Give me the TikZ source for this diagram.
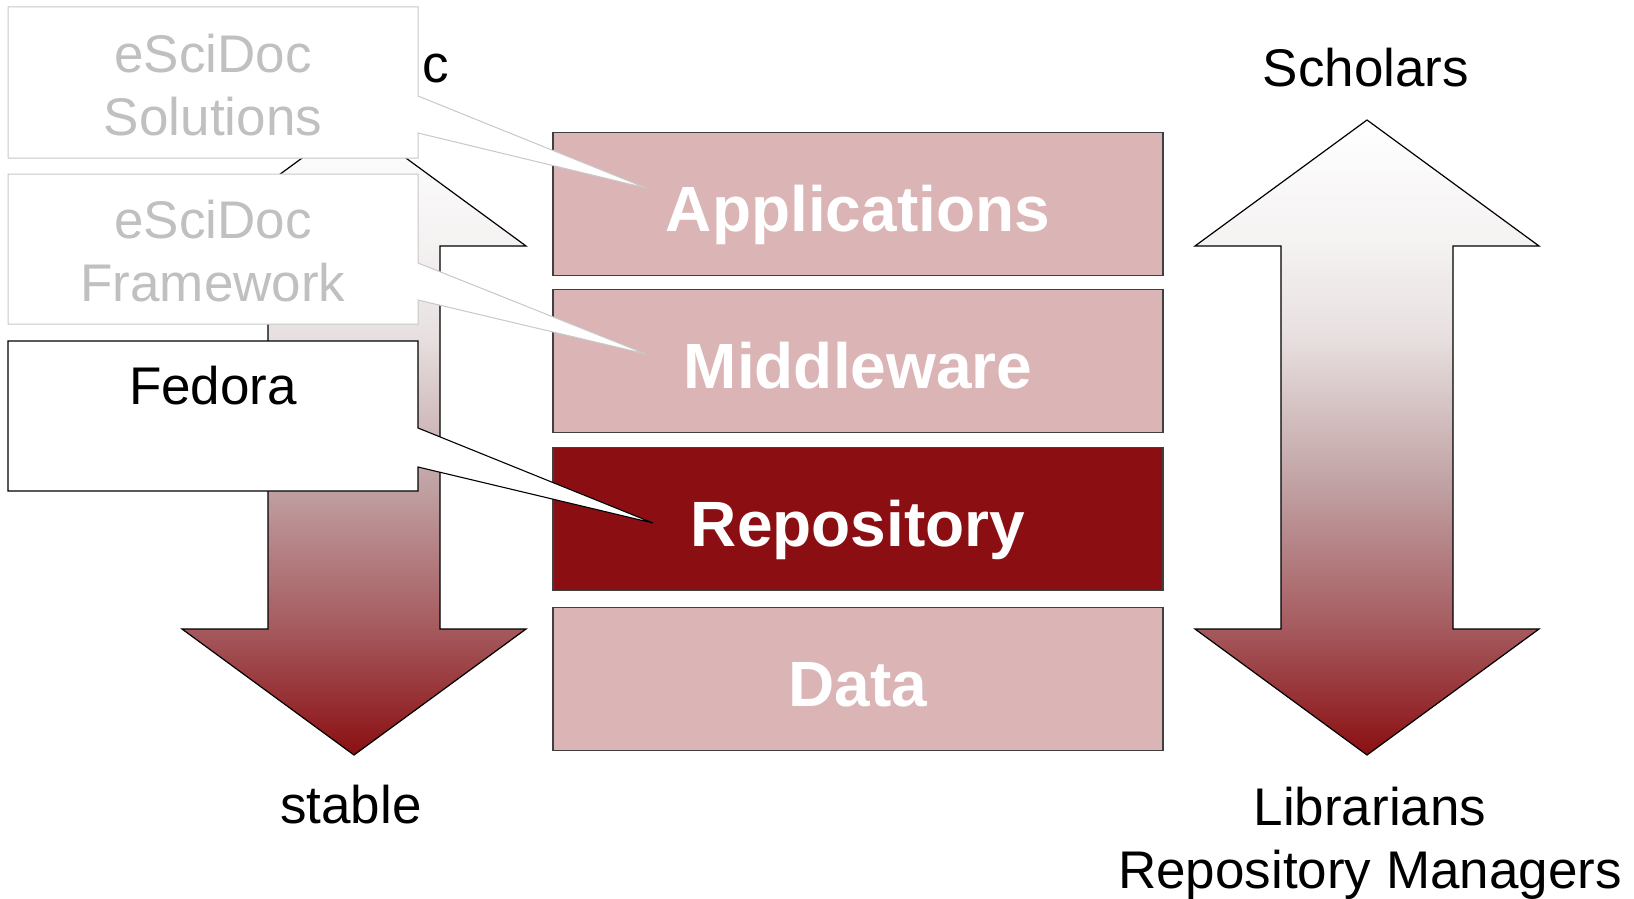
\documentclass[tikz,border=0pt]{standalone}
\usepackage{fontspec}
\setmainfont{Liberation Sans}
\definecolor{layerpink}{HTML}{DBB4B5}
\definecolor{repored}{HTML}{8B0F12}
\definecolor{ghostline}{HTML}{C8C8C8}
\definecolor{ghosttext}{HTML}{C0C0C0}
\definecolor{sA}{HTML}{A55A5E}
\definecolor{sB}{HTML}{C0A0A2}
\definecolor{sC}{HTML}{E8E0E0}
\definecolor{sD}{HTML}{F4F1F1}
\pgfdeclareverticalshading{arrowshade}{100bp}{color(0bp)=(repored); color(25bp)=(repored); color(35bp)=(sA); color(46bp)=(sB); color(58bp)=(sC); color(65bp)=(sD); color(75bp)=(white); color(100bp)=(white)}
\tikzset{
  bigarrow/.style={shading=arrowshade, draw=black, line width=1.2pt, line join=miter},
  layer/.style={rectangle, draw=black!75, line width=1.2pt, minimum width=610pt, minimum height=143pt, inner sep=0pt,
     text=white, font=\fontsize{64}{70}\selectfont\bfseries, text height=54pt, text depth=0pt},
  ghostcallout/.style={fill=white, draw=ghostline, line width=1pt},
  realcallout/.style={fill=white, draw=black, line width=1.1pt},
  ghostlabel/.style={text=ghosttext, align=center, inner sep=0pt, font=\fontsize{53}{62.5}\selectfont},
  plainlabel/.style={text=black, align=center, inner sep=0pt, font=\fontsize{53}{63}\selectfont},
}
\begin{document}
\begin{tikzpicture}[x=1pt, y=-1pt]
\useasboundingbox (0,0) rectangle (1634,899);
% arrows
\path[bigarrow] (354,120) -- (526,246) -- (440,246) -- (440,629) -- (526,629) -- (354,755)
   -- (182,629) -- (268,629) -- (268,246) -- (182,246) -- cycle;
\path[bigarrow] (1367,120) -- (1539,246) -- (1453,246) -- (1453,629) -- (1539,629) -- (1367,755)
   -- (1195,629) -- (1281,629) -- (1281,246) -- (1195,246) -- cycle;
% texts
\node[plainlabel, anchor=base west] (dyn) at (422,83) {c};
\node[plainlabel, anchor=base] (scholars) at (1366,86) {Scholars};
\node[plainlabel, anchor=base] (stable) at (351,823) {stable};
\node[plainlabel, anchor=base] (libr) at (1370,825) {Librarians};
\node[plainlabel, anchor=base] (repman) at (1370,888) {Repository Managers};
% layers
\node[layer, fill=layerpink] (app) at (858,204) {Applications};
\node[layer, fill=layerpink] (mid) at (858,361) {Middleware};
\node[layer, fill=repored] (repo) at (858,519) {Repository};
\node[layer, fill=layerpink] (data) at (858,679) {Data};
% callout tips
\coordinate (tipA) at (646,188);
\coordinate (tipM) at (646,354);
\coordinate (tipR) at (653,523);
% callouts
\draw[ghostcallout] (8,7) -- (418,7) -- (418,96) -- (tipA) -- (418,133) -- (418,158) -- (8,158) -- cycle;
\node[ghostlabel] (sol) at (213,85) {eSciDoc\\Solutions};
\draw[ghostcallout] (8,174) -- (418,174) -- (418,263) -- (tipM) -- (418,300) -- (418,324) -- (8,324) -- cycle;
\node[ghostlabel] (fw) at (213,251) {eSciDoc\\Framework};
\draw[realcallout] (8,341) -- (418,341) -- (418,428) -- (tipR) -- (418,467) -- (418,491) -- (8,491) -- cycle;
\node[plainlabel, anchor=base] (fedora) at (213,404) {Fedora};
\end{tikzpicture}
\end{document}
